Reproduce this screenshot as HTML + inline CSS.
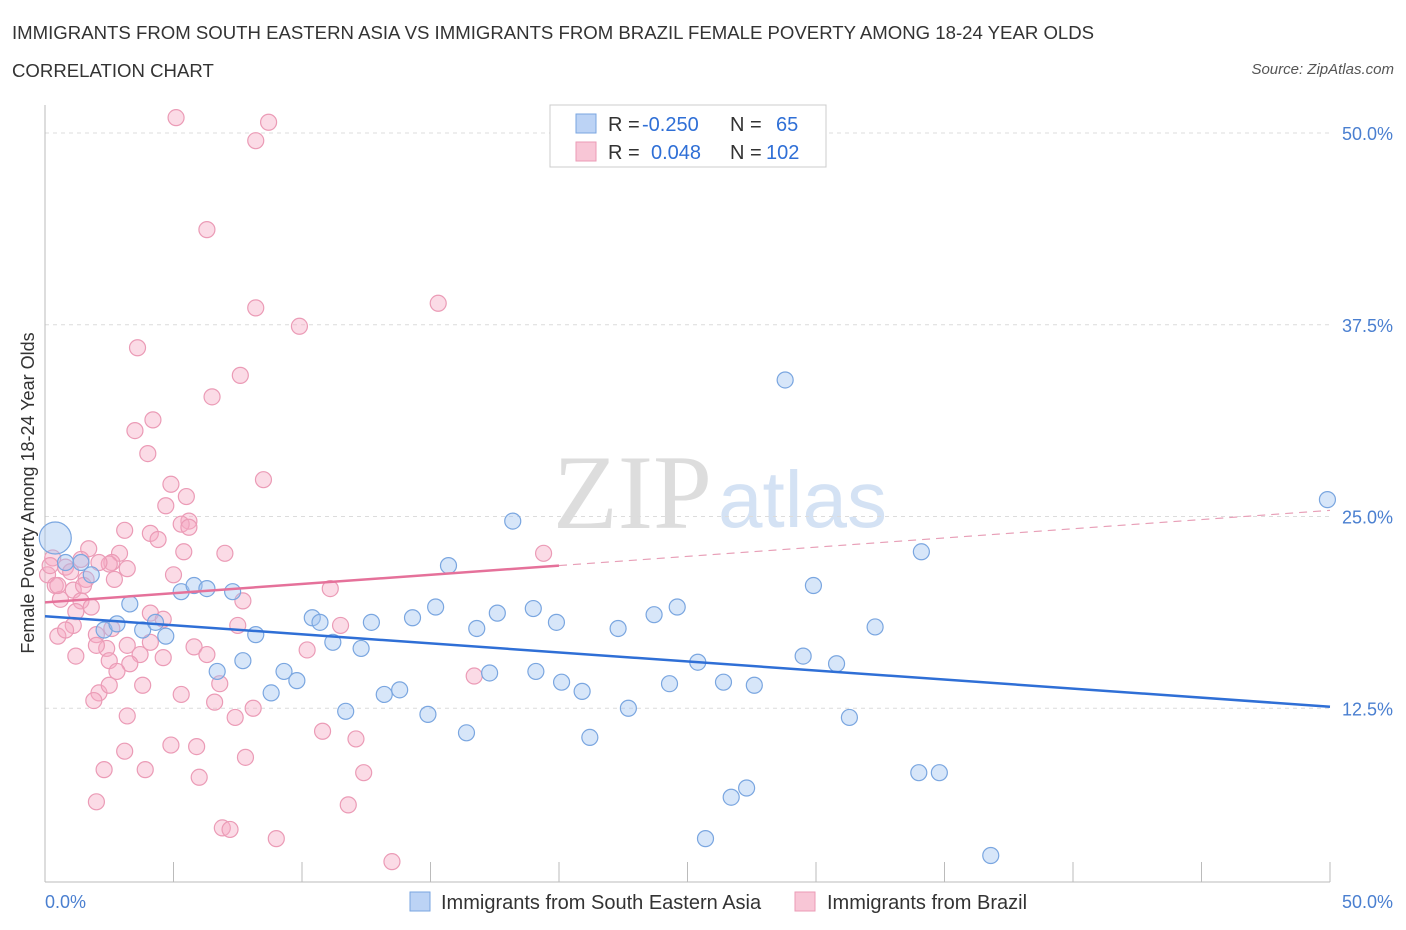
<!DOCTYPE html>
<html><head><meta charset="utf-8"><style>
body{margin:0;background:#fff;font-family:"Liberation Sans",sans-serif;}
#wrap{position:relative;width:1406px;height:930px;overflow:hidden;}
.t{position:absolute;white-space:nowrap;}
</style></head><body>
<div id="wrap">
<div class="t" style="left:12px;top:22px;font-size:18.6px;color:#333;">IMMIGRANTS FROM SOUTH EASTERN ASIA VS IMMIGRANTS FROM BRAZIL FEMALE POVERTY AMONG 18-24 YEAR OLDS</div>
<div class="t" style="left:12px;top:60px;font-size:18.6px;color:#333;">CORRELATION CHART</div>
<div class="t" style="right:12px;top:61px;font-size:15px;color:#555;font-style:italic;">Source: ZipAtlas.com</div>
<svg id="svg" width="1406" height="930" style="position:absolute;left:0;top:0"></svg>
</div>
<script>
const yTicks=[12.5,25,37.5,50];
const yTickLabels=["12.5%","25.0%","37.5%","50.0%"];
const xTickCount=11;
const blueX=[0.4,0.8,1.4,1.8,3.3,2.3,2.8,3.8,4.3,4.7,5.3,5.8,6.3,7.3,8.2,7.7,6.7,9.3,8.8,9.8,10.4,10.7,11.2,12.3,12.7,11.7,13.2,13.8,14.3,14.9,15.2,15.7,16.4,16.8,17.3,17.6,18.2,19.0,19.1,19.9,20.1,20.9,21.2,22.3,22.7,23.7,24.3,24.6,25.4,26.4,27.6,25.7,26.7,27.3,28.8,29.5,29.9,30.8,31.3,32.3,34.1,34.0,34.8,36.8,49.9];
const blueY=[23.6,22.0,22.0,21.2,19.3,17.6,18.0,17.6,18.1,17.2,20.1,20.5,20.3,20.1,17.3,15.6,14.9,14.9,13.5,14.3,18.4,18.1,16.8,16.4,18.1,12.3,13.4,13.7,18.4,12.1,19.1,21.8,10.9,17.7,14.8,18.7,24.7,19.0,14.9,18.1,14.2,13.6,10.6,17.7,12.5,18.6,14.1,19.1,15.5,14.2,14.0,4.0,6.7,7.3,33.9,15.9,20.5,15.4,11.9,17.8,22.7,8.3,8.3,2.9,26.1];
const pinkX=[5.1,8.7,8.2,6.3,15.3,8.2,9.9,3.6,7.6,6.5,4.2,3.5,4.0,8.5,4.9,5.5,4.7,5.6,5.3,3.1,4.1,4.4,5.6,7.0,19.4,1.7,2.9,2.6,3.2,2.5,1.4,0.8,0.3,0.1,0.4,1.0,1.6,2.1,5.0,2.7,1.1,0.6,1.4,1.8,4.1,4.6,7.7,11.1,11.5,7.5,1.2,1.1,0.5,0.8,2.0,2.6,2.4,2.0,3.2,3.7,4.1,4.6,3.3,5.8,6.3,10.2,16.7,1.2,2.5,2.8,6.8,3.8,2.1,2.5,1.9,5.3,6.6,8.1,7.4,3.2,10.8,12.1,3.1,4.9,5.9,7.8,2.3,3.9,6.0,12.4,2.0,11.8,6.9,7.2,9.0,13.5,5.4,1.5,0.5,0.2];
const pinkY=[51.0,50.7,49.5,43.7,38.9,38.6,37.4,36.0,34.2,32.8,31.3,30.6,29.1,27.4,27.1,26.3,25.7,24.7,24.5,24.1,23.9,23.5,24.3,22.6,22.6,22.9,22.6,22.0,21.6,21.9,22.2,21.7,22.3,21.2,20.5,21.4,20.9,22.0,21.2,20.9,20.2,19.6,19.5,19.1,18.7,18.3,19.5,20.3,17.9,17.9,18.8,17.9,17.2,17.6,17.3,17.7,16.4,16.6,16.6,16.0,16.8,15.8,15.4,16.5,16.0,16.3,14.6,15.9,15.6,14.9,14.1,14.0,13.5,14.0,13.0,13.4,12.9,12.5,11.9,12.0,11.0,10.5,9.7,10.1,10.0,9.3,8.5,8.5,8.0,8.3,6.4,6.2,4.7,4.6,4.0,2.5,22.7,20.5,20.5,21.8];
const blueTrend=[18.5,12.6];
const pinkTrend=[19.4,25.4];
const pinkSolidEnd=20;

const X0=45,X1=1330,Y0=900,YS=15.34;
const sx=v=>X0+(X1-X0)*v/50;
const sy=v=>Y0-v*YS;
const svg=document.getElementById('svg');
const NS='http://www.w3.org/2000/svg';
function mk(tag,attrs,parent){const e=document.createElementNS(NS,tag);for(const k in attrs)e.setAttribute(k,attrs[k]);(parent||svg).appendChild(e);return e;}
let w=mk('text',{x:553,y:528,'font-size':106,'font-family':'Liberation Serif, serif',fill:'#ddd'});w.textContent='ZIP';


w=mk('text',{x:718,y:527,'font-size':80,'font-family':'Liberation Sans, sans-serif',fill:'#d4e2f4'});w.textContent='atlas';


yTicks.forEach((t,i)=>{
 const g=mk('line',{x1:X0,x2:X1,y1:sy(t),y2:sy(t),stroke:'#dcdcdc','stroke-dasharray':'4,4'});
 
 
 const l=mk('text',{x:1393,y:sy(t)+7,'text-anchor':'end','font-size':18,fill:'#4a7fd0','font-family':'Liberation Sans, sans-serif'});
 l.textContent=yTickLabels[i];
 
 
});
let a=mk('line',{x1:X0,x2:X0,y1:105,y2:882,stroke:'#bbb'});


a=mk('line',{x1:X0,x2:X1,y1:882,y2:882,stroke:'#bbb'});


for(let i=0;i<xTickCount;i++){const xx=sx(i*5);const tk=mk('line',{x1:xx,x2:xx,y1:862,y2:882,stroke:'#bbb'});
 
 }
let xl=mk('text',{x:45,y:908,'font-size':18,fill:'#4a7fd0','font-family':'Liberation Sans, sans-serif'});xl.textContent='0.0%';


xl=mk('text',{x:1393,y:908,'text-anchor':'end','font-size':18,fill:'#4a7fd0','font-family':'Liberation Sans, sans-serif'});xl.textContent='50.0%';


let yt=mk('text',{x:0,y:0,'font-size':18,fill:'#333','text-anchor':'middle','font-family':'Liberation Sans, sans-serif',transform:'translate(34,493) rotate(-90)'});yt.textContent='Female Poverty Among 18-24 Year Olds';


pinkX.forEach((v,i)=>{const c=mk('circle',{cx:sx(v),cy:sy(pinkY[i]),r:8,fill:'rgba(245,170,195,0.42)',stroke:'#eb9bb6','stroke-width':1.2});
 
 });
blueX.forEach((v,i)=>{const c=mk('circle',{cx:sx(v),cy:sy(blueY[i]),r:i===0?16:8,fill:'rgba(160,195,240,0.42)',stroke:'#7aa6e0','stroke-width':1.2});
 
 });
const pAt=x=>pinkTrend[0]+(pinkTrend[1]-pinkTrend[0])*x/50;
let tl=mk('line',{x1:sx(0),y1:sy(blueTrend[0]),x2:sx(50),y2:sy(blueTrend[1]),stroke:'#2f6fd6','stroke-width':2.5});


tl=mk('line',{x1:sx(0),y1:sy(pAt(0)),x2:sx(pinkSolidEnd),y2:sy(pAt(pinkSolidEnd)),stroke:'#e5719a','stroke-width':2.5});


tl=mk('line',{x1:sx(pinkSolidEnd),y1:sy(pAt(pinkSolidEnd)),x2:sx(50),y2:sy(pAt(50)),stroke:'#e8a0b8','stroke-width':1.2,'stroke-dasharray':'8,6'});


let lg=mk('rect',{x:550,y:105,width:276,height:62,fill:'#fff',stroke:'#ccc'});


function txt(x,y,s,fill,name,size){const t=mk('text',{x:x,y:y,'font-size':size||20,fill:fill,'font-family':'Liberation Sans, sans-serif'});t.textContent=s;
 
 return t;}
let sw=mk('rect',{x:576,y:114,width:20,height:19,fill:'#bcd3f5',stroke:'#7aa6e0'});


sw=mk('rect',{x:576,y:142,width:20,height:19,fill:'#f8c6d6',stroke:'#eb9bb6'});


txt(608,131,'R =','#333','r-label');txt(642,131,'-0.250','#2f6fd6','sea-r-value');
txt(730,131,'N =','#333','n-label');txt(776,131,'65','#2f6fd6','sea-n-value');
txt(608,159,'R =','#333','r-label');txt(651,159,'0.048','#2f6fd6','brazil-r-value');
txt(730,159,'N =','#333','n-label');txt(766,159,'102','#2f6fd6','brazil-n-value');
sw=mk('rect',{x:410,y:892,width:20,height:19,fill:'#bcd3f5',stroke:'#7aa6e0'});


txt(441,909,'Immigrants from South Eastern Asia','#333','legend-sea',20);
sw=mk('rect',{x:795,y:892,width:20,height:19,fill:'#f8c6d6',stroke:'#eb9bb6'});


txt(827,909,'Immigrants from Brazil','#333','legend-brazil',20);
</script>
</body></html>
